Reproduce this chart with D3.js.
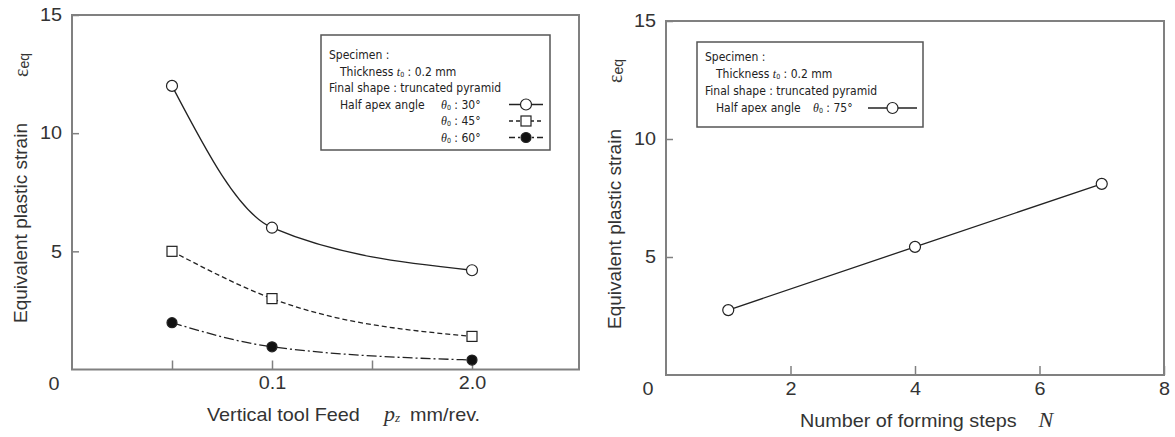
<!DOCTYPE html>
<html>
<head>
<meta charset="utf-8">
<script src="https://cdn.jsdelivr.net/npm/d3@7"></script>
<style>
  body { margin: 0; background: #fff; }
  svg text { font-family: "Liberation Sans", Arial, sans-serif; fill: #333; }
  .leg text { font-family: "Liberation Sans Narrow", "DejaVu Sans Condensed", sans-serif; font-size: 12px; fill: #222; }
</style>
</head>
<body>
<svg id="chart" width="1175" height="437"></svg>
<script>
// left panel - vertical tool feed (category positions on x)
var feedTicks = [1, 2, 3, 4]
var feedTickLabels = ["", "0.1", "", "2.0"]
var feedPos = [1, 2, 4]
var strain30 = [12.0, 6.0, 4.2]
var strain45 = [5.0, 3.0, 1.4]
var strain60 = [1.98, 0.96, 0.4]

// right panel - number of forming steps
var stepTicks = [2, 4, 6, 8]
var steps = [1, 4, 7]
var strain75 = [2.75, 5.43, 8.1]

var strainTicks = [5, 10, 15]

// the source figure is a bit stretched sideways
var stretch = 1.1

var svg = d3.select("#chart")

// text placed at (x,y), widened like the figure
function wideText(x, y, size) {
    return svg.append("g")
        .attr("transform", "translate(" + x + "," + y + ") scale(" + stretch + ",1)")
        .append("text")
        .attr("dominant-baseline", "central")
        .attr("font-size", size)
}

function panel(o) {
    var x = d3.scaleLinear().domain(o.xDomain).range([o.left, o.right])
    var y = d3.scaleLinear().domain([0, 15]).range([o.bottom, o.top])

    // x axis (ticks pointing inward)
    var gx = svg.append("g")
        .attr("transform", "translate(0," + o.bottom + ")")
        .call(d3.axisBottom(x).tickValues(o.xTicks).tickFormat(o.xFormat)
            .tickSizeInner(-9).tickSizeOuter(0).tickPadding(7))
    gx.select(".domain").remove()

    var gy = svg.append("g")
        .attr("transform", "translate(" + o.left + ",0)")
        .call(d3.axisLeft(y).tickValues(strainTicks)
            .tickSizeInner(-7).tickSizeOuter(0).tickPadding(9))
    gy.select(".domain").remove()

    svg.selectAll(".tick line").attr("stroke", "#808080").attr("stroke-width", 1.5)
    svg.selectAll(".tick text").attr("font-size", 18).attr("fill", "#333")
        .attr("font-family", "Liberation Sans, Arial, sans-serif")
        .attr("transform", "scale(" + stretch + ",1)")

    // frame
    svg.append("rect")
        .attr("x", o.left).attr("y", o.top)
        .attr("width", o.right - o.left).attr("height", o.bottom - o.top)
        .attr("fill", "none").attr("stroke", "#808080").attr("stroke-width", 2)

    // origin label
    wideText(o.left - 18, o.bottom + 14, 18).attr("text-anchor", "middle").text("0")

    // y label, in two pieces
    svg.append("text")
        .attr("transform", "translate(" + o.yLabelX + "," + o.yLabelY + ") rotate(-90)")
        .attr("dominant-baseline", "central")
        .attr("font-size", 18)
        .attr("textLength", 200)
        .attr("lengthAdjust", "spacingAndGlyphs")
        .text("Equivalent plastic strain")
    var eps = svg.append("text")
        .attr("transform", "translate(" + o.yLabelX + "," + (o.yLabelY - 246) + ") rotate(-90)")
        .attr("dominant-baseline", "central")
        .attr("font-size", 20)
    eps.append("tspan").attr("font-family", "Liberation Serif, serif").text("ε")
    eps.append("tspan").attr("font-size", 14).attr("dy", 3).text("eq")

    return {x: x, y: y}
}

function drawSeries(sc, xs, ys, o) {
    var pts = xs.map(function(v, i) { return [v, ys[i]] })
    var line = d3.line()
        .x(function(d) { return sc.x(d[0]) })
        .y(function(d) { return sc.y(d[1]) })
        .curve(o.curve)
    svg.append("path")
        .datum(pts)
        .attr("d", line)
        .attr("fill", "none")
        .attr("stroke", "#222")
        .attr("stroke-width", 1.3)
        .attr("stroke-dasharray", o.dash)
    pts.forEach(function(p) {
        marker(sc.x(p[0]), sc.y(p[1]), o.marker)
    })
}

function marker(cx, cy, type) {
    if (type == "square") {
        svg.append("rect")
            .attr("x", cx - 5).attr("y", cy - 5).attr("width", 10).attr("height", 10)
            .attr("fill", "#fff").attr("stroke", "#222").attr("stroke-width", 1.2)
    } else {
        svg.append("circle")
            .attr("cx", cx).attr("cy", cy).attr("r", type == "dot" ? 5 : 5.5)
            .attr("fill", type == "dot" ? "#111" : "#fff")
            .attr("stroke", "#222").attr("stroke-width", 1.2)
    }
}

function legend(o) {
    var g = svg.append("g").attr("class", "leg")
    g.append("rect")
        .attr("x", o.x).attr("y", o.y).attr("width", o.w).attr("height", o.h)
        .attr("fill", "#fff").attr("stroke", "#555").attr("stroke-width", 1.5)

    var row = function(i) { return o.y + o.first + i * o.step }

    g.append("text").attr("x", o.x + 8).attr("y", row(0)).attr("dominant-baseline", "central").text("Specimen :")
    var t = g.append("text").attr("x", o.x + 19).attr("y", row(1)).attr("dominant-baseline", "central")
    t.append("tspan").text("Thickness ")
    t.append("tspan").attr("font-style", "italic").attr("font-family", "Liberation Serif, serif").text(" t")
    t.append("tspan").attr("font-size", 7).attr("dy", 3).text("0")
    t.append("tspan").attr("dy", -3).text(" : 0.2 mm")
    g.append("text").attr("x", o.x + 8).attr("y", row(2)).attr("dominant-baseline", "central").text("Final shape : truncated pyramid")
    g.append("text").attr("x", o.x + 19).attr("y", row(3)).attr("dominant-baseline", "central").text("Half apex angle")

    o.items.forEach(function(it, i) {
        var th = g.append("text").attr("x", o.thetaX).attr("y", row(3 + i)).attr("dominant-baseline", "central")
        th.append("tspan").attr("font-style", "italic").attr("font-family", "Liberation Serif, serif").text("θ")
        th.append("tspan").attr("font-size", 7).attr("dy", 3).text("0")
        th.append("tspan").attr("dy", -3).text(" : " + it.label)
        g.append("line")
            .attr("x1", o.symX1).attr("x2", o.symX2)
            .attr("y1", row(3 + i)).attr("y2", row(3 + i))
            .attr("stroke", "#222").attr("stroke-width", 1.3)
            .attr("stroke-dasharray", it.dash)
        marker((o.symX1 + o.symX2) / 2, row(3 + i), it.marker)
    })
}

// ---- left chart
var left = panel({
    left: 72, right: 579, top: 15, bottom: 369.5,
    xDomain: [0, 5.07], xTicks: feedTicks,
    xFormat: function(d, i) { return feedTickLabels[i] },
    yLabelX: 21, yLabelY: 323
})

drawSeries(left, feedPos, strain30, {curve: d3.curveMonotoneX, dash: null, marker: "circle"})
drawSeries(left, feedPos, strain45, {curve: d3.curveMonotoneX, dash: "5,3", marker: "square"})
drawSeries(left, feedPos, strain60, {curve: d3.curveMonotoneX, dash: "10,3,2,3", marker: "dot"})

var xl = wideText(207, 414, 18)
xl.append("tspan").text("Vertical tool Feed")
xl.append("tspan").attr("dx", 22).attr("font-style", "italic")
    .attr("font-family", "Liberation Serif, serif").attr("font-size", 20).text("p")
xl.append("tspan").attr("font-style", "italic").attr("font-family", "Liberation Serif, serif")
    .attr("font-size", 12).attr("dy", 4).text("z")
xl.append("tspan").attr("dx", 9).attr("dy", -4).text("mm/rev.")

legend({
    x: 321, y: 35, w: 229, h: 115, first: 20, step: 16.5,
    thetaX: 441, symX1: 509, symX2: 543,
    items: [
        {label: "30°", dash: null, marker: "circle"},
        {label: "45°", dash: "4,3", marker: "square"},
        {label: "60°", dash: "6,3,2,3", marker: "dot"}
    ]
})

// ---- right chart
var right = panel({
    left: 666, right: 1164, top: 21, bottom: 375,
    xDomain: [0, 8], xTicks: stepTicks,
    xFormat: function(d) { return d },
    yLabelX: 615, yLabelY: 329
})

drawSeries(right, steps, strain75, {curve: d3.curveLinear, dash: null, marker: "circle"})

var xr = wideText(800, 420, 18)
xr.append("tspan").text("Number of forming steps")
xr.append("tspan").attr("dx", 20).attr("font-style", "italic")
    .attr("font-family", "Liberation Serif, serif").attr("font-size", 20).text("N")

legend({
    x: 697, y: 42, w: 226, h: 85, first: 15, step: 17,
    thetaX: 813, symX1: 868, symX2: 917,
    items: [
        {label: "75°", dash: null, marker: "circle"}
    ]
})
</script>
</body>
</html>
